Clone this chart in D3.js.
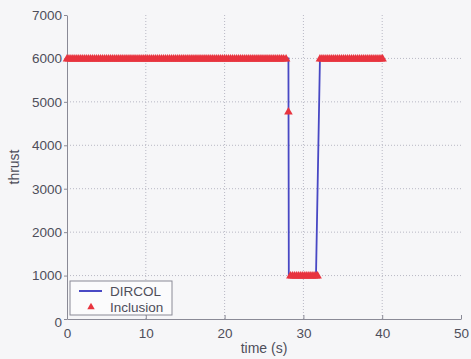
<!DOCTYPE html>
<html>
<head>
<meta charset="utf-8">
<script src="https://cdn.jsdelivr.net/npm/d3@7"></script>
<style>
  body { margin: 0; background: #f6f6f8; }
  text { font-family: "Liberation Sans", Arial, sans-serif; fill: #4e4e5a; }
  .grid line { stroke: #b8b8c4; stroke-dasharray: 1,2; stroke-width: 1; }
  .axis path, .axis line { stroke: #8a8a96; }
</style>
</head>
<body>
<script>
var w = 471, h = 359;
var margin = {top: 15, right: 14, bottom: 40, left: 67};

// x / y ticks
var xTicks = [0, 10, 20, 30, 40, 50];
var yTicks = [0, 1000, 2000, 3000, 4000, 5000, 6000, 7000];

// DIRCOL solution
var dircolTime   = [0, 28.1, 28.15, 31.6, 32.1, 40];
var dircolThrust = [6000, 6000, 1000, 1000, 6000, 6000];

// Inclusion solution samples (max thrust, min thrust, and one in between)
var incHighThrust = 6000, incLowThrust = 1000;
var incHighTimes = [0, 0.25, 0.5, 0.75, 1, 1.25, 1.5, 1.75, 2, 2.25, 2.5, 2.75, 3, 3.25, 3.5, 3.75,
  4, 4.25, 4.5, 4.75, 5, 5.25, 5.5, 5.75, 6, 6.25, 6.5, 6.75, 7, 7.25, 7.5, 7.75,
  8, 8.25, 8.5, 8.75, 9, 9.25, 9.5, 9.75, 10, 10.25, 10.5, 10.75, 11, 11.25, 11.5, 11.75,
  12, 12.25, 12.5, 12.75, 13, 13.25, 13.5, 13.75, 14, 14.25, 14.5, 14.75, 15, 15.25, 15.5, 15.75,
  16, 16.25, 16.5, 16.75, 17, 17.25, 17.5, 17.75, 18, 18.25, 18.5, 18.75, 19, 19.25, 19.5, 19.75,
  20, 20.25, 20.5, 20.75, 21, 21.25, 21.5, 21.75, 22, 22.25, 22.5, 22.75, 23, 23.25, 23.5, 23.75,
  24, 24.25, 24.5, 24.75, 25, 25.25, 25.5, 25.75, 26, 26.25, 26.5, 26.75, 27, 27.25, 27.5, 27.8,
  32.1, 32.35, 32.6, 32.85, 33.1, 33.35, 33.6, 33.85, 34.1, 34.35, 34.6, 34.85, 35.1, 35.35, 35.6, 35.85,
  36.1, 36.35, 36.6, 36.85, 37.1, 37.35, 37.6, 37.85, 38.1, 38.35, 38.6, 38.85, 39.1, 39.35, 39.6, 39.85, 40.05];
var incLowTimes = [28.35, 28.6, 28.85, 29.1, 29.35, 29.6, 29.85, 30.1, 30.35, 30.6, 30.85, 31.1, 31.35, 31.6, 31.8];
var incMidTimes = [28.1];
var incMidThrust = [4780];

var incPoints = incHighTimes.map(function(t) { return {t: t, v: incHighThrust}; })
  .concat(incLowTimes.map(function(t) { return {t: t, v: incLowThrust}; }))
  .concat(incMidTimes.map(function(t, i) { return {t: t, v: incMidThrust[i]}; }));

var blue = "#4848c4", red = "#e8343f";

var svg = d3.select("body").append("svg")
    .attr("width", w)
    .attr("height", h);

var x = d3.scaleLinear().domain([0, 50]).range([margin.left, w - margin.right + 4]);
var y = d3.scaleLinear().domain([0, 7000]).range([h - margin.bottom, margin.top]);

// grid
svg.append("g").attr("class", "grid")
  .selectAll("line.gx").data(xTicks.slice(1, -1)).enter().append("line")
    .attr("x1", d => x(d)).attr("x2", d => x(d))
    .attr("y1", y(0)).attr("y2", y(7000));
svg.append("g").attr("class", "grid")
  .selectAll("line.gy").data(yTicks.slice(1, -1)).enter().append("line")
    .attr("x1", x(0)).attr("x2", x(50))
    .attr("y1", d => y(d)).attr("y2", d => y(d));

// x axis (ticks inward)
var xAxis = svg.append("g")
    .attr("class", "axis")
    .attr("transform", "translate(0," + y(0) + ")")
    .call(d3.axisBottom(x).tickValues(xTicks).tickFormat(d3.format("d"))
      .tickSizeInner(-4).tickSizeOuter(0).tickPadding(9));
xAxis.selectAll("text").style("font-size", "13.5px");

// y axis
var yAxis = svg.append("g")
    .attr("class", "axis")
    .attr("transform", "translate(" + x(0) + ",0)")
    .call(d3.axisLeft(y).tickValues(yTicks).tickFormat(d3.format("d"))
      .tickSizeInner(3).tickSizeOuter(0).tickPadding(2));
yAxis.selectAll("text").style("font-size", "13.5px");
yAxis.selectAll(".tick").filter(d => d === 0).select("text").attr("dy", "0.55em").attr("x", -5);

// axis labels
svg.append("text")
    .attr("x", (x(0) + x(50)) / 2)
    .attr("y", 353)
    .attr("text-anchor", "middle")
    .style("font-size", "14px")
    .text("time (s)");

svg.append("text")
    .attr("transform", "translate(19," + y(3500) + ") rotate(-90)")
    .attr("text-anchor", "middle")
    .style("font-size", "14px")
    .text("thrust");

// DIRCOL line
var line = d3.line()
    .x(function(d, i) { return x(dircolTime[i]); })
    .y(function(d) { return y(d); });

svg.append("path")
    .datum(dircolThrust)
    .attr("fill", "none")
    .attr("stroke", blue)
    .attr("stroke-width", 1.8)
    .attr("d", line);

// Inclusion markers
var tri = d3.symbol().type(d3.symbolTriangle).size(32);
svg.append("g").selectAll("path")
    .data(incPoints)
    .enter().append("path")
    .attr("d", tri)
    .attr("fill", red)
    .attr("transform", function(d) { return "translate(" + x(d.t) + "," + (y(d.v) + 0.5) + ")"; });

// legend
var legend = svg.append("g").attr("transform", "translate(70,281)");
legend.append("rect")
    .attr("width", 102).attr("height", 34)
    .attr("fill", "#fbfbfc")
    .attr("stroke", "#8a8a96");
legend.append("line")
    .attr("x1", 9).attr("x2", 32).attr("y1", 10).attr("y2", 10)
    .attr("stroke", blue).attr("stroke-width", 2);
legend.append("path")
    .attr("d", d3.symbol().type(d3.symbolTriangle).size(24))
    .attr("fill", red)
    .attr("transform", "translate(21,26)");
legend.append("text")
    .attr("x", 40).attr("y", 10).attr("dy", "0.35em")
    .style("font-size", "13.5px")
    .text("DIRCOL");
legend.append("text")
    .attr("x", 40).attr("y", 26).attr("dy", "0.35em")
    .style("font-size", "13.5px")
    .text("Inclusion");
</script>
</body>
</html>
